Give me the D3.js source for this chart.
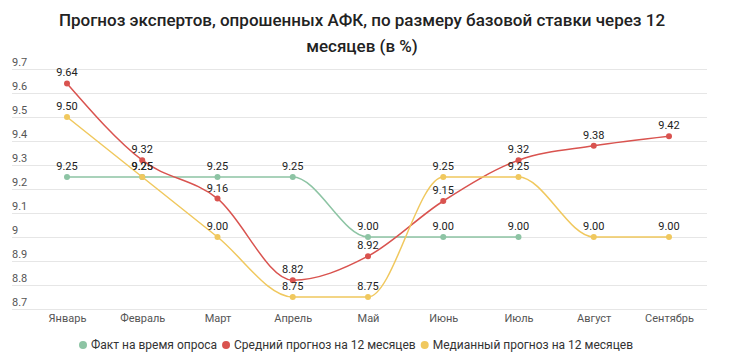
<!DOCTYPE html>
<html>
<head>
<meta charset="utf-8">
<script src="https://cdn.jsdelivr.net/npm/d3@7"></script>
<style>
  body { margin: 0; background: #fff; font-family: Roboto, "Noto Sans", sans-serif; }
  svg text { font-family: Roboto, "Noto Sans", sans-serif; }
</style>
</head>
<body>
<svg id="chart" width="730" height="363"></svg>
<script>
const months = ['Январь', 'Февраль', 'Март', 'Апрель', 'Май', 'Июнь', 'Июль', 'Август', 'Сентябрь'];
const yTicks = [8.7, 8.8, 8.9, 9, 9.1, 9.2, 9.3, 9.4, 9.5, 9.6, 9.7];

const factValues   = [9.25, 9.25, 9.25, 9.25, 9.00, 9.00, 9.00, null, null];
const meanValues   = [9.64, 9.32, 9.16, 8.82, 8.92, 9.15, 9.32, 9.38, 9.42];
const medianValues = [9.50, 9.25, 9.00, 8.75, 8.75, 9.25, 9.25, 9.00, 9.00];

const seriesNames = ['Факт на время опроса', 'Средний прогноз на 12 месяцев', 'Медианный прогноз на 12 месяцев'];
const seriesColors = ['#8dc4a4', '#d9534f', '#f0c85e'];

const series = [factValues, meanValues, medianValues].map((vals, i) => ({
    name: seriesNames[i],
    color: seriesColors[i],
    points: vals.map((v, j) => ({month: months[j], value: v})).filter(d => d.value != null)
}));

const svg = d3.select('#chart');

const x = d3.scalePoint()
    .domain(months)
    .range([67, 669]);

const y = d3.scaleLinear()
    .domain([8.7, 9.7])
    .range([309, 69]);

// title
const titleLines = ['Прогноз экспертов, опрошенных АФК, по размеру базовой ставки через 12', 'месяцев (в %)'];
svg.selectAll('.title')
    .data(titleLines)
    .enter()
    .append('text')
        .attr('class', 'title')
        .attr('x', 362)
        .attr('y', (d, i) => 26 + i * 26)
        .attr('text-anchor', 'middle')
        .style('font-size', '17px')
        .style('font-weight', 500)
        .style('fill', '#222')
        .text(d => d);

// grid + y labels
const grid = svg.append('g').attr('class', 'grid');
grid.selectAll('line')
    .data(yTicks)
    .enter()
    .append('line')
        .attr('x1', 12)
        .attr('x2', 707)
        .attr('y1', d => y(d))
        .attr('y2', d => y(d))
        .style('stroke', '#e6e6e6')
        .style('stroke-width', 1)
        .style('shape-rendering', 'crispEdges');

grid.selectAll('text')
    .data(yTicks)
    .enter()
    .append('text')
        .attr('x', 12)
        .attr('y', d => y(d) - 3)
        .style('font-size', '11px')
        .style('fill', '#555')
        .text(d => d3.format('~g')(d));

// x axis
const xAxis = svg.append('g')
    .attr('transform', `translate(0, ${309})`)
    .call(d3.axisBottom(x).tickSize(0).tickPadding(5));
xAxis.select('.domain').remove();
xAxis.selectAll('text')
    .style('font-size', '11px')
    .style('fill', '#555');

// lines
const line = d3.line()
    .x(d => x(d.month))
    .y(d => y(d.value))
    .curve(d3.curveMonotoneX);

const seriesG = svg.append('g').attr('class', 'series')
    .selectAll('g')
    .data(series)
    .enter()
    .append('g');

seriesG.append('path')
    .attr('d', d => line(d.points))
    .style('fill', 'none')
    .style('stroke', d => d.color)
    .style('stroke-width', 1.5);

seriesG.selectAll('circle')
    .data(d => d.points.map(p => Object.assign({color: d.color}, p)))
    .enter()
    .append('circle')
        .attr('cx', d => x(d.month))
        .attr('cy', d => y(d.value))
        .attr('r', 3)
        .style('fill', d => d.color);

seriesG.selectAll('text')
    .data(d => d.points)
    .enter()
    .append('text')
        .attr('x', d => x(d.month))
        .attr('y', d => y(d.value) - 7)
        .attr('text-anchor', 'middle')
        .style('font-size', '11px')
        .style('fill', '#222')
        .text(d => d3.format('.2f')(d.value));

// legend
const legend = svg.append('g').attr('class', 'legend');
let lx = 83;
series.forEach(s => {
    legend.append('circle')
        .attr('cx', lx)
        .attr('cy', 345)
        .attr('r', 4)
        .style('fill', s.color);
    const t = legend.append('text')
        .attr('x', lx + 8)
        .attr('y', 349)
        .style('font-size', '12px')
        .style('fill', '#333')
        .text(s.name);
    lx += 8 + t.node().getComputedTextLength() + 9;
});
</script>
</body>
</html>
